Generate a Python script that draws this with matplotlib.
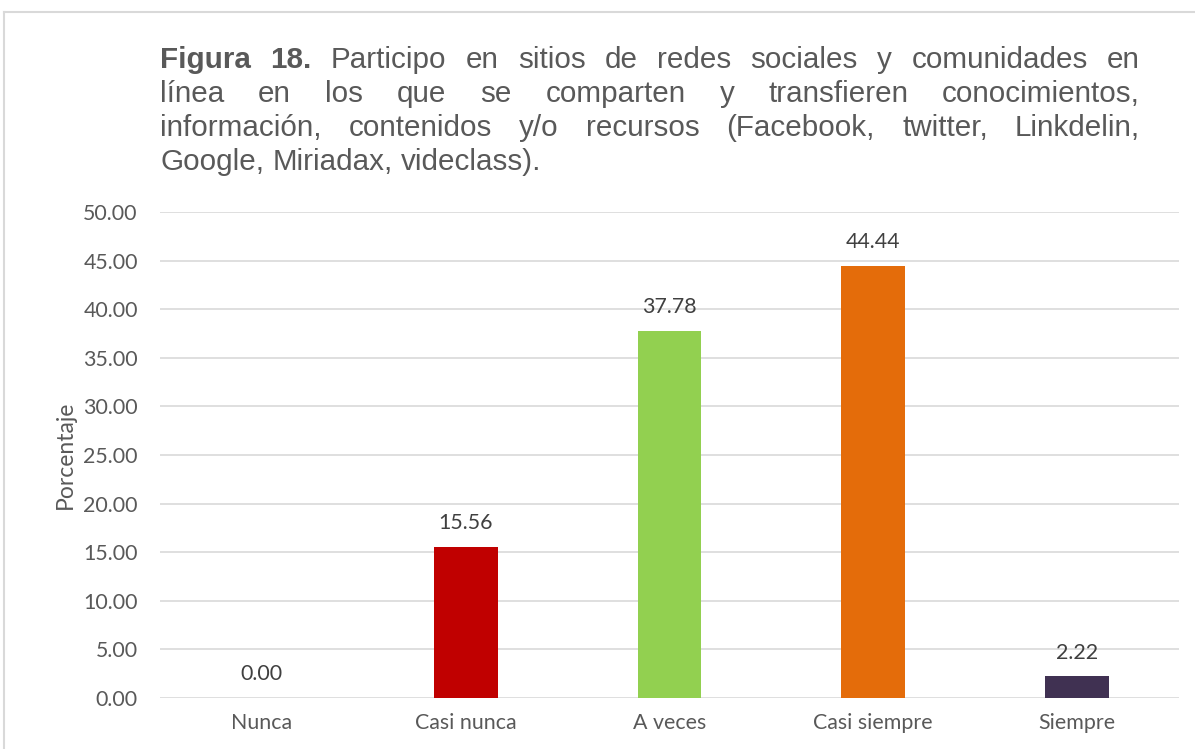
import matplotlib.pyplot as plt
from matplotlib.lines import Line2D

categorias = ["Nunca", "Casi nunca", "A veces", "Casi siempre", "Siempre"]
porcentajes = [0.00, 15.56, 37.78, 44.44, 2.22]
colores = ["#4472C4", "#C00000", "#92D050", "#E46C0A", "#403152"]
yticks = [0, 5, 10, 15, 20, 25, 30, 35, 40, 45, 50]

titulo = [
    [("Figura 18.", True), ("Participo en sitios de redes sociales y comunidades en", False)],
    [("línea en los que se comparten y transfieren conocimientos,", False)],
    [("información, contenidos y/o recursos (Facebook, twitter, Linkdelin,", False)],
    [("Google, Miriadax, videclass).", False)],
]
justificar = [True, True, True, False]

W, H = 1195, 749
fig = plt.figure(figsize=(W / 100, H / 100), dpi=100)
gris = "#595959"

# marco gris claro (arriba e izquierda)
fig.add_artist(Line2D([4 / W, 1], [1 - 12 / H, 1 - 12 / H], color="#D9D9D9", lw=1.5))
fig.add_artist(Line2D([4 / W, 4 / W], [0, 1 - 12 / H], color="#D9D9D9", lw=1.5))

ax = fig.add_axes([160 / W, 51 / H, 1019 / W, 486 / H])
x = range(len(categorias))
bars = ax.bar(x, porcentajes, width=0.314, color=colores, zorder=3)
for b, v in zip(bars, porcentajes):
    ax.annotate(f"{v:.2f}", (b.get_x() + b.get_width() / 2, v), xytext=(0, 10),
                textcoords="offset points", ha="center", va="bottom",
                fontsize=15.4, color="#404040", family="Lato")

ax.set_xlim(-0.5, len(categorias) - 0.5)
ax.set_ylim(0, 50)
ax.set_yticks(yticks)
ax.set_yticklabels([f"{t:.2f}" for t in yticks], family="Lato", fontsize=15.4, color=gris)
ax.set_xticks(list(x))
ax.set_xticklabels(categorias, family="Lato", fontsize=15.4, color=gris)
ax.tick_params(length=0, pad=16)
ax.tick_params(axis="x", pad=11)
ax.grid(axis="y", color="#D9D9D9", lw=1.2, zorder=0)
for s in ax.spines.values():
    s.set_visible(False)
ax.set_ylabel("Porcentaje", family="Lato", fontsize=16.5, color=gris, labelpad=5)

# titulo justificado
fig.canvas.draw()
r = fig.canvas.get_renderer()
x0, x1 = 160, 1140
fs = 21.3
base = [68, 102, 136, 170]
for linea, just, yb in zip(titulo, justificar, base):
    palabras = []
    for trozo, neg in linea:
        for p in trozo.split():
            palabras.append((p, neg))
    arts = []
    for p, neg in palabras:
        t = fig.text(0, 1 - yb / H, p, fontsize=fs, family="Liberation Sans",
                     fontweight="bold" if neg else "normal", color=gris, va="baseline")
        arts.append(t)
    anchos = [t.get_window_extent(r).width for t in arts]
    espacio_normal = fs * 0.278 * 100 / 72
    if just and len(arts) > 1:
        esp = (x1 - x0 - sum(anchos)) / (len(arts) - 1)
    else:
        esp = espacio_normal
    xp = x0
    for t, w in zip(arts, anchos):
        t.set_x(xp / W)
        xp += w + esp

fig.savefig("out.png", dpi=100)
